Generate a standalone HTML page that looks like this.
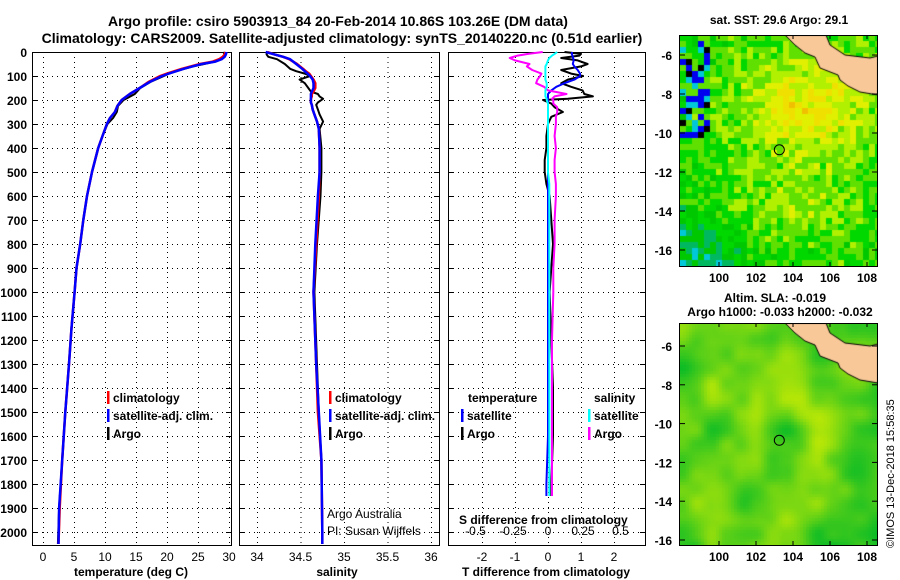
<!DOCTYPE html>
<html><head><meta charset="utf-8"><style>
html,body{margin:0;padding:0;background:#fff;}
#wrap{position:relative;width:900px;height:580px;overflow:hidden;font-family:"Liberation Sans",sans-serif;}
svg text{font-family:"Liberation Sans",sans-serif;}
canvas{position:absolute;}
</style></head><body>
<div id="wrap">
<canvas id="map1" width="198" height="231" style="left:680px;top:35px"></canvas>
<canvas id="map2" width="198" height="222" style="left:680px;top:323px"></canvas>
<svg id="s" width="900" height="580" style="position:absolute;left:0;top:0" xmlns="http://www.w3.org/2000/svg"></svg>
</div>
<script>
// ---- data ----
const depthT = [0,10,20,30,40,50,60,70,80,90,100,125,150,175,200,225,250,275,300,350,400,450,500,600,700,800,900,1000,1150,1300,1500,1700,1900,2050];
const tempClim = [29.4,29.3,29.0,28.4,27.4,25.3,23.8,22.4,21.2,20.0,18.9,17.0,15.6,14.0,12.7,12.0,11.6,10.8,10.3,9.6,8.9,8.4,7.9,7.1,6.5,6.0,5.4,5.1,4.6,4.2,3.6,3.1,2.7,2.5];
const tempSat  = [29.6,29.5,29.3,28.8,27.8,25.6,24.1,22.7,21.5,20.3,19.2,17.2,15.6,14.0,12.7,12.0,11.6,10.8,10.3,9.6,8.9,8.4,7.9,7.1,6.5,6.0,5.4,5.1,4.6,4.2,3.6,3.1,2.6,2.5];
const tempArgo = [29.1,29.3,29.0,28.6,27.7,26.0,24.2,22.8,21.5,20.3,19.5,17.3,15.7,14.8,13.0,12.1,11.9,11.3,10.4,9.6,8.9,8.4,7.9,7.1,6.5,6.0,5.4,5.1,4.6,4.2,3.6,3.1,2.6,2.4];
const depthS = [0,10,20,30,50,70,80,90,100,115,130,150,165,175,185,195,210,220,240,260,290,320,400,500,600,800,1000,1300,1500,1700,2000,2050];
const salClim = [34.12,34.2,34.3,34.37,34.46,34.53,34.56,34.6,34.62,34.65,34.67,34.67,34.65,34.63,34.63,34.62,34.62,34.63,34.64,34.66,34.69,34.71,34.72,34.72,34.71,34.68,34.65,34.68,34.70,34.74,34.75,34.75];
const salSat  = [34.10,34.2,34.3,34.38,34.45,34.52,34.55,34.58,34.61,34.64,34.65,34.65,34.63,34.62,34.62,34.62,34.62,34.63,34.64,34.66,34.69,34.71,34.72,34.72,34.70,34.67,34.65,34.68,34.71,34.74,34.75,34.75];
const salArgo = [34.11,34.11,34.13,34.23,34.32,34.38,34.45,34.55,34.61,34.49,34.55,34.59,34.62,34.7,34.72,34.76,34.7,34.68,34.7,34.72,34.76,34.72,34.74,34.74,34.73,34.69,34.66,34.69,34.71,34.74,34.75,34.75];
const depthD = [0,8,15,25,35,50,60,75,90,100,115,130,145,160,175,185,195,200,215,230,250,270,300,350,400,450,500,550,600,700,800,900,1000,1200,1400,1600,1800,1850];
const dTsat  = [0.73,0.72,0.74,0.76,0.78,0.75,0.8,0.9,0.97,0.97,0.8,0.5,0.25,0.1,0.0,0.0,0,0,0,0,0,0,0,0,0,0,0,0,0,0,0,0,0,0,0,0,-0.05,-0.05];
const dTargo = [0.5,1.0,0.95,0.4,0.9,1.2,1.0,0.4,0.7,1.06,0.6,0.4,0.7,1.05,1.1,1.36,0.6,-0.15,0.1,0.2,0.45,0.1,0.0,-0.05,-0.05,-0.1,-0.1,-0.05,0.05,0.1,0.15,0.1,0.05,0.1,0.15,0.15,0.1,0.1];
const dSsat  = [0.07,0.05,0.03,0.01,0,-0.01,-0.02,-0.02,-0.02,-0.02,-0.02,-0.01,-0.01,-0.02,-0.02,-0.02,-0.01,-0.01,0,0,0,0,0,0,0,0,0,0.01,0.01,0.01,0.01,0.01,0.01,0.01,0.01,0.01,0.01,0.01];
const dSargo = [-0.04,-0.15,-0.23,-0.29,-0.25,-0.14,-0.16,-0.12,-0.05,-0.06,-0.08,-0.09,-0.03,0.0,0.14,0.05,0.03,0.04,0.04,0.07,0.07,0.06,0.06,0.05,0.06,0.05,0.05,0.06,0.06,0.05,0.05,0.04,0.04,0.03,0.03,0.03,0.03,0.03];
const depthTicks = [0,100,200,300,400,500,600,700,800,900,1000,1100,1200,1300,1400,1500,1600,1700,1800,1900,2000];
const tTicks = [0,5,10,15,20,25,30];
const sTicks = [34,34.5,35,35.5,36];
const dtTicks = [-2,-1,0,1,2];
const dsTicks = [-0.5,-0.25,0,0.25,0.5];

// ---- axes ----
const Y = d => 52 + d*0.24;
const xT = t => 43 + t*6.2;
const xS = s => 257 + (s-34)*87;
const xDT = t => 548 + t*33;
const xDS = s => 548 + s*132;
const NS = "http://www.w3.org/2000/svg";
const svg = document.getElementById('s');
function el(tag, attrs, parent){const e=document.createElementNS(NS,tag);for(const k in attrs)e.setAttribute(k,attrs[k]);(parent||svg).appendChild(e);return e;}
function txt(x,y,s,attrs){const e=el('text',Object.assign({x:x,y:y,'font-size':12,'font-weight':'bold',fill:'#000'},attrs||{}));e.textContent=s;return e;}

const panels=[{x0:32,x1:231,name:'temperature-panel'},{x0:239,x1:439,name:'salinity-panel'},{x0:448,x1:645,name:'difference-panel'}];
const PTOP=52,PBOT=545;
panels.forEach(p=>{
  const g=el('g',{});
  
  
  const grid=el('g',{stroke:'#000','stroke-width':1,'stroke-dasharray':'1,4'},g);
  depthTicks.forEach(d=>{if(d>0){const l=el('line',{x1:p.x0,x2:p.x1,y1:Y(d)+0.5,y2:Y(d)+0.5},grid);}});
  p.g=g;p.grid=grid;
});
function vgrid(p,xs){xs.forEach(x=>{const l=el('line',{x1:x+0.5,x2:x+0.5,y1:PTOP,y2:PBOT},p.grid);});}
vgrid(panels[0],tTicks.map(xT));
vgrid(panels[1],sTicks.map(xS));
vgrid(panels[2],dtTicks.map(xDT));

depthTicks.forEach(d=>{const t=txt(27,Y(d)+5,String(d),{'text-anchor':'end'});});
panels.forEach(p=>{depthTicks.forEach(d=>{el('line',{x1:p.x0,x2:p.x0+5,y1:Y(d)+0.5,y2:Y(d)+0.5,stroke:'#000'},p.g);el('line',{x1:p.x1-5,x2:p.x1,y1:Y(d)+0.5,y2:Y(d)+0.5,stroke:'#000'},p.g);});});
tTicks.forEach(t=>{const e=txt(xT(t),561,String(t),{'text-anchor':'middle','font-weight':'normal'});});
sTicks.forEach(t=>{const e=txt(xS(t),561,String(t),{'text-anchor':'middle','font-weight':'normal'});});
dtTicks.forEach(t=>{const e=txt(xDT(t),561,String(t),{'text-anchor':'middle','font-weight':'normal'});});
const dsLabelX = s => 548 + s*(Math.abs(s)>0.3?145:140);
dsTicks.forEach(t=>{const e=txt(dsLabelX(t),535,String(t),{'text-anchor':'middle','font-weight':'normal'});});

function line(xs,ds,fx,color,w,name){
  const pts=xs.map((v,i)=>fx(v).toFixed(1)+','+Y(ds[i]).toFixed(1)).join(' ');
  const e=el('polyline',{points:pts,fill:'none',stroke:color,'stroke-width':w,'stroke-linejoin':'round'});
  
  
  return e;
}
line(tempArgo,depthT,xT,'#000',2,'temp-argo-line');
line(tempClim,depthT,xT,'#f00',2.5,'temp-climatology-line');
line(tempSat,depthT,xT,'#00f',2.5,'temp-satellite-line');
line(salArgo,depthS,xS,'#000',2,'sal-argo-line');
line(salClim,depthS,xS,'#f00',2.5,'sal-climatology-line');
line(salSat,depthS,xS,'#00f',2.5,'sal-satellite-line');
line(dTargo,depthD,xDT,'#000',2,'tdiff-argo-line');
line(dTsat,depthD,xDT,'#00f',2,'tdiff-satellite-line');
line(dSargo,depthD,xDS,'#f0f',2,'sdiff-argo-line');
line(dSsat,depthD,xDS,'#0ff',2,'sdiff-satellite-line');

panels.forEach(p=>{el('rect',{x:p.x0+0.5,y:PTOP+0.5,width:p.x1-p.x0,height:PBOT-PTOP,fill:'none',stroke:'#000','stroke-width':1},p.g);});

function leg(x,y,c,label,name){const g=el('g',{});el('rect',{x:x,y:y-11,width:2.5,height:13,fill:c},g);const t=txt(x+6,y,label,{});g.appendChild(t);}
leg(107,402,'#f00','climatology','legend-climatology');
leg(107,420,'#00f','satellite-adj. clim.','legend-satellite-adj');
leg(107,438,'#000','Argo','legend-argo');
leg(329,402,'#f00','climatology','legend-climatology-sal');
leg(329,420,'#00f','satellite-adj. clim.','legend-satellite-adj-sal');
leg(329,438,'#000','Argo','legend-argo-sal');
txt(468,402,'temperature',{});
leg(461,420,'#00f','satellite','legend-t-satellite');
leg(461,438,'#000','Argo','legend-t-argo');
txt(594,402,'salinity',{});
leg(588,420,'#0ff','satellite','legend-s-satellite');
leg(588,438,'#f0f','Argo','legend-s-argo');
txt(327,518,'Argo Australia',{'font-weight':'normal'});
txt(327,535,'PI: Susan Wijffels',{'font-weight':'normal'});
txt(459,524,'S difference from climatology',{});

txt(131,576,'temperature (deg C)',{'text-anchor':'middle'});
txt(337,576,'salinity',{'text-anchor':'middle'});
txt(546,576,'T difference from climatology',{'text-anchor':'middle'});
const t1=txt(338,26,'Argo profile: csiro 5903913_84 20-Feb-2014 10.86S 103.26E (DM data)',{'text-anchor':'middle','font-size':14});

const t2=txt(342,43,'Climatology: CARS2009. Satellite-adjusted climatology: synTS_20140220.nc (0.51d earlier)',{'text-anchor':'middle','font-size':14});


txt(779,24,'sat. SST: 29.6 Argo: 29.1',{'text-anchor':'middle'});
txt(775,302,'Altim. SLA: -0.019',{'text-anchor':'middle'});
txt(780,316,'Argo h1000: -0.033 h2000: -0.032',{'text-anchor':'middle'});
const lonT=[100,102,104,106,108], latT=[-6,-8,-10,-12,-14,-16];
const mxf=lo=>719+(lo-100)*18.5;
function mapAxes(y0,y1,latY){
  el('rect',{x:679.5,y:y0+0.5,width:198,height:y1-y0,fill:'none',stroke:'#000'});
  latT.forEach(l=>{const y=latY(l);txt(672,y+5,String(l),{'text-anchor':'end'});el('line',{x1:680,x2:685,y1:y,y2:y,stroke:'#000'});el('line',{x1:872,x2:878,y1:y,y2:y,stroke:'#000'});});
  lonT.forEach(l=>{const x=mxf(l);el('line',{x1:x,x2:x,y1:y0,y2:y0+4,stroke:'#000'});el('line',{x1:x,x2:x,y1:y1-4,y2:y1,stroke:'#000'});txt(x,y1+16,String(l),{'text-anchor':'middle'});});
}
mapAxes(35,266,l=>55+(-6-l)*19.5);
mapAxes(323,545,l=>346+(-6-l)*19.4);
el('circle',{cx:mxf(103.26),cy:55+4.86*19.5,r:5,fill:'none',stroke:'#000'});
el('circle',{cx:mxf(103.26),cy:346+4.86*19.4,r:5,fill:'none',stroke:'#000'});
txt(0,0,'©IMOS 13-Dec-2018 15:58:35',{'font-weight':'normal','font-size':11,transform:'translate(894,548) rotate(-90)'});

// ---- maps (image texture) ----
function hsh(i,j,s){let n=Math.sin(i*127.1+j*311.7+s*74.7)*43758.5453;return n-Math.floor(n);}
function vn(x,y,s){const i=Math.floor(x),j=Math.floor(y),fx=x-i,fy=y-j;const a=hsh(i,j,s),b=hsh(i+1,j,s),c2=hsh(i,j+1,s),d=hsh(i+1,j+1,s);const u=fx*fx*(3-2*fx),v=fy*fy*(3-2*fy);return a*(1-u)*(1-v)+b*u*(1-v)+c2*(1-u)*v+d*u*v;}
const landPoly=[[105,0],[146,0],[150,10],[165,20],[190,23],[198,21],[198,60],[180,57],[168,51],[160,45],[158,40],[140,33],[135,22],[125,18],[115,10]];
function drawLand(ctx){ctx.fillStyle='#f8c898';ctx.strokeStyle='#000';ctx.lineWidth=1;ctx.beginPath();landPoly.forEach((p,i)=>i?ctx.lineTo(p[0],p[1]):ctx.moveTo(p[0],p[1]));ctx.closePath();ctx.fill();ctx.stroke();}
(function(){
  const ctx=document.getElementById('map1').getContext('2d');
  const pal=['#00c8d8','#00b860','#00c800','#00d800','#60e000','#b0f000','#e0f000','#f0e000','#f0c000'];
  const cs=6.1;
  for(let i=0;i<33;i++)for(let j=0;j<38;j++){
    const cx=i*cs,cy=j*cs;
    let v=3.4+3.2*Math.exp(-(((cx-125)/65)**2+((cy-70)/55)**2))+1.4*Math.exp(-(((cx-110)/60)**2+((cy-170)/30)**2));
    v-=2.8*Math.exp(-(((cx)/60)**2+((cy-231)/55)**2));
    v+=(hsh(i,j,1)-0.5)*2.4;
    let k=Math.max(0,Math.min(8,Math.round(v)));
    let col=pal[k];
    if(cx<30&&cy<100&&hsh(i,j,3)>0.72)col=hsh(i,j,4)>0.5?'#000':'#0000f0';
    else if(cx<30&&cy<100&&hsh(i,j,5)>0.75)col='#00c8d8';
    ctx.fillStyle=col;ctx.fillRect(Math.floor(cx),Math.floor(cy),Math.ceil(cs),Math.ceil(cs));
  }
  drawLand(ctx);
})();
(function(){
  const ctx=document.getElementById('map2').getContext('2d');
  const cs=3;
  for(let i=0;i<66;i++)for(let j=0;j<74;j++){
    const x=i*cs,y=j*cs;
    let v=vn(x/35,y/35,7)*0.7+vn(x/15,y/15,9)*0.3;
    v+=0.3*Math.exp(-(((x-110)/40)**2+((y-80)/30)**2))-0.15;
    v=Math.max(0,Math.min(1,v));
    const r=Math.round(0+v*220),g=Math.round(185+v*55),b=Math.round(40-v*40);
    ctx.fillStyle='rgb('+r+','+g+','+Math.max(0,b)+')';ctx.fillRect(x,y,cs,cs);
  }
  drawLand(ctx);
})();
</script>
</body></html>
